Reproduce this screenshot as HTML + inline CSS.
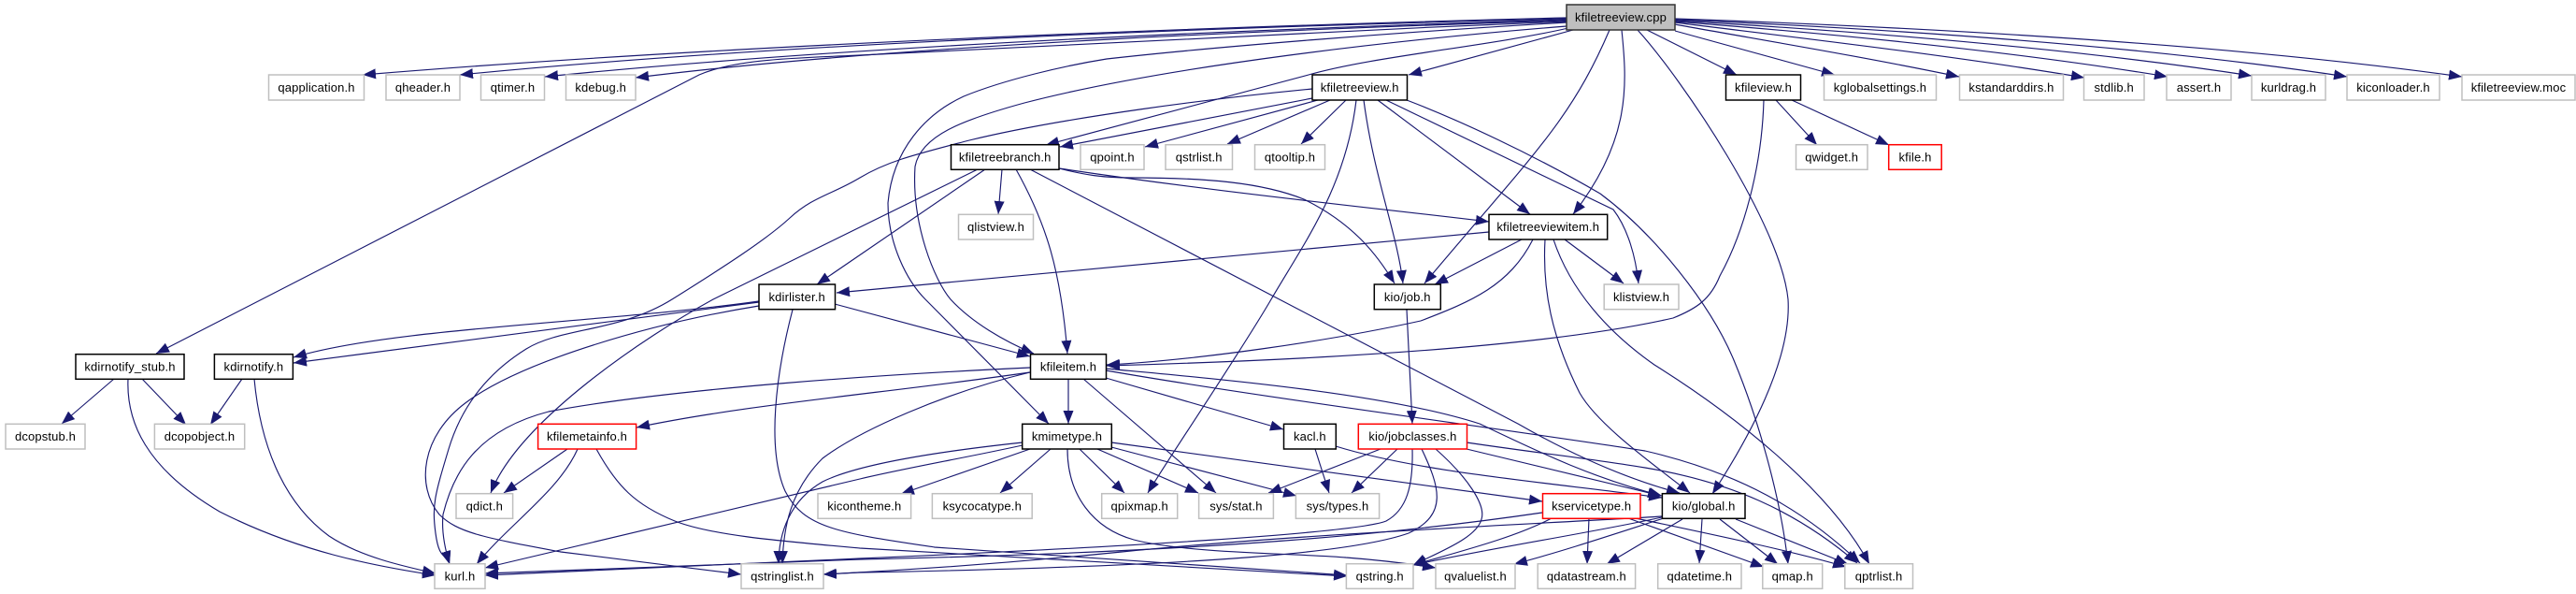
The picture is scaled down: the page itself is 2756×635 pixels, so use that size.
<!DOCTYPE html>
<html><head><meta charset="utf-8"><title>kfiletreeview.cpp</title>
<style>
html,body{margin:0;padding:0;background:#fff;width:2756px;height:635px;overflow:hidden}
svg{display:block}
text{font-family:"Liberation Sans",sans-serif;font-size:13px;fill:#000;text-anchor:middle;letter-spacing:.15px}
.e path{fill:none;stroke:#191970;stroke-width:1.15;marker-end:url(#a)}
.g rect{fill:#fff;stroke:#bfbfbf;stroke-width:1.5}
.b rect{fill:#fff;stroke:#000;stroke-width:1.5}
.r rect{fill:#fff;stroke:#ff0000;stroke-width:1.5}
</style></head><body>
<svg width="2756" height="635" viewBox="0 0 2756 635" xmlns="http://www.w3.org/2000/svg">
<defs><marker id="a" markerUnits="userSpaceOnUse" markerWidth="16" markerHeight="12" refX="14" refY="5.5" orient="auto"><path d="M0 0L14 5.5L0 11Z" fill="#191970"/></marker></defs>
<g class="e">
<path d="M1676 19C1350 27 800 46 388 80"/>
<path d="M1676 20C1350 28 860 44 492 80"/>
<path d="M1676 21C1380 30 930 47 583 82"/>
<path d="M1676 22C1420 30 980 46 680 83"/>
<path d="M1676 23C1400 34 1100 50 920 59C860 62 790 62 748 80L167 378"/>
<path d="M1676 24C1500 34 1300 50 1184 63C1140 70 1075 85 1031 103C990 122 955 160 950 217C950 260 970 300 990 320L1122 453"/>
<path d="M1676 28C1500 42 1250 70 1096 110C1030 128 985 145 979 178C975 240 1000 300 1017 320C1040 345 1075 365 1106 378"/>
<path d="M1678 30C1590 50 1470 60 1400 80L1119 155"/>
<path d="M1683 32L1507 80"/>
<path d="M1722 32C1680 130 1640 165 1524 303"/>
<path d="M1735 32C1741 90 1745 150 1683 229"/>
<path d="M1752 32C1800 85 1905 240 1913 320C1917 385 1870 470 1832 528"/>
<path d="M1762 32L1858 80"/>
<path d="M1792 33L1963 80"/>
<path d="M1792 26C1880 42 1990 60 2096 82"/>
<path d="M1792 24C1920 40 2080 58 2230 83"/>
<path d="M1792 23C1960 36 2150 54 2319 82"/>
<path d="M1792 22C2000 34 2220 52 2409 81"/>
<path d="M1792 21C2050 32 2300 50 2511 82"/>
<path d="M1792 20C2080 30 2390 48 2634 82"/>
<path d="M1404 95C1300 105 1140 125 1037 150C980 165 950 172 920 190S870 210 845 233S775 285 719 320S600 350 563 373S495 430 480 480S462 540 466 570S477 590 481 603"/>
<path d="M1404 105L1134 157"/>
<path d="M1410 107L1225 157"/>
<path d="M1423 107L1313 154"/>
<path d="M1440 107L1392 154"/>
<path d="M1451 107C1440 200 1395 260 1360 320S1250 490 1228 527"/>
<path d="M1459 107C1470 190 1495 250 1501 303"/>
<path d="M1474 107L1637 229"/>
<path d="M1483 107L1726 224C1742 245 1750 275 1753 303"/>
<path d="M1505 107C1560 128 1640 165 1712 207C1770 250 1830 325 1855 385C1880 445 1905 530 1913 603"/>
<path d="M1046 181L763 320C690 360 555 450 525 527"/>
<path d="M1054 181L874 304"/>
<path d="M1072 181L1068 229"/>
<path d="M1087 181C1120 240 1135 290 1142 378"/>
<path d="M1102 181L1624 453C1680 485 1740 512 1797 527"/>
<path d="M1133 180C1300 205 1450 220 1593 237"/>
<path d="M1133 180C1160 187 1180 190 1210 190C1290 190 1350 195 1395 213C1450 240 1475 275 1492 303"/>
<path d="M1593 248L895 313"/>
<path d="M1628 256L1535 304"/>
<path d="M1640 256C1615 305 1575 322 1520 343C1420 365 1280 385 1184 390"/>
<path d="M1653 256C1650 310 1660 360 1690 420C1710 455 1770 497 1808 527"/>
<path d="M1662 256C1680 310 1720 355 1770 390C1850 440 1955 520 2000 603"/>
<path d="M1674 256L1737 303"/>
<path d="M812 322C650 345 420 350 314 382"/>
<path d="M812 323L314 388"/>
<path d="M812 327C700 345 560 385 499 430C450 466 445 520 470 550C490 570 520 575 600 590L793 614"/>
<path d="M848 331C830 400 820 480 840 525C860 565 900 570 1000 585L1441 615"/>
<path d="M893 325L1102 381"/>
<path d="M122 405L66 453"/>
<path d="M137 405C135 450 155 500 235 547C320 590 400 605 466 615"/>
<path d="M152 405L199 454"/>
<path d="M259 405L225 454"/>
<path d="M272 405C278 470 300 535 352 573C385 595 430 605 466 613"/>
<path d="M1102 393C950 400 720 415 587 440C510 460 485 505 474 550C472 570 477 590 481 603"/>
<path d="M1102 398C950 420 800 432 681 457"/>
<path d="M1102 398C1010 420 920 460 880 490C845 525 838 565 837 603"/>
<path d="M1143 405L1143 453"/>
<path d="M1159 405L1301 527"/>
<path d="M1183 404L1373 459"/>
<path d="M1183 394C1300 405 1480 420 1583 453C1640 480 1700 510 1778 530"/>
<path d="M1183 396C1350 425 1620 460 1760 482C1860 505 1930 545 1990 602"/>
<path d="M1094 473C1010 482 920 495 880 515C845 535 833 570 833 603"/>
<path d="M1094 476C1030 490 970 500 920 512L519 607"/>
<path d="M1102 480L964 528"/>
<path d="M1124 480L1070 527"/>
<path d="M1142 480C1142 530 1170 565 1213 577C1270 592 1400 592 1440 596C1480 599 1510 603 1536 607"/>
<path d="M1155 480L1203 527"/>
<path d="M1174 480L1282 527"/>
<path d="M1189 478L1387 530"/>
<path d="M1189 473L1650 536"/>
<path d="M1407 480L1422 527"/>
<path d="M1429 477C1520 505 1650 515 1778 532"/>
<path d="M1505 331L1511 453"/>
<path d="M1477 480L1357 527"/>
<path d="M1495 480L1446 527"/>
<path d="M1511 480C1512 520 1505 545 1483 557C1450 570 1200 585 920 597L519 615"/>
<path d="M1521 480C1540 520 1550 550 1507 570C1450 590 1300 605 920 612L881 614"/>
<path d="M1536 480C1570 510 1590 540 1585 555C1580 575 1540 590 1512 604"/>
<path d="M1569 473C1650 485 1700 490 1760 500C1850 515 1920 545 1987 602"/>
<path d="M1569 480L1777 530"/>
<path d="M1650 548C1500 570 1300 590 920 598L519 613"/>
<path d="M1660 554C1620 575 1560 590 1512 604"/>
<path d="M1700 554L1698 603"/>
<path d="M1742 554L1887 606"/>
<path d="M1745 553C1850 575 1920 590 1975 606"/>
<path d="M1778 552C1650 560 1400 570 1200 590C1100 600 1000 608 881 614"/>
<path d="M1778 553C1700 570 1600 585 1512 604"/>
<path d="M1780 554C1730 570 1670 590 1620 603"/>
<path d="M1800 555L1719 603"/>
<path d="M1821 555L1818 602"/>
<path d="M1840 555L1902 603"/>
<path d="M1857 555L1977 603"/>
<path d="M607 480L539 527"/>
<path d="M618 480C598 525 545 560 510 603"/>
<path d="M638 480C660 520 680 540 722 557C760 572 830 578 920 586L1441 616"/>
<path d="M1887 107C1885 180 1865 250 1840 295C1830 320 1815 330 1790 340C1650 372 1400 385 1184 391"/>
<path d="M1900 107L1944 155"/>
<path d="M1917 107L2021 155"/>
</g>
<g class="b"><rect x="1676" y="5" width="116" height="27" style="fill:#bfbfbf;stroke:#333"/><text x="1734" y="23">kfiletreeview.cpp</text></g>
<g class="g"><rect x="287.5" y="80" width="102" height="27"/><text x="338.5" y="98">qapplication.h</text></g>
<g class="g"><rect x="413" y="80" width="79" height="27"/><text x="452.5" y="98">qheader.h</text></g>
<g class="g"><rect x="514.5" y="80" width="68" height="27"/><text x="548.5" y="98">qtimer.h</text></g>
<g class="g"><rect x="605.5" y="80" width="74.5" height="27"/><text x="642.7" y="98">kdebug.h</text></g>
<g class="b"><rect x="1404" y="80" width="101.5" height="27"/><text x="1454.7" y="98">kfiletreeview.h</text></g>
<g class="b"><rect x="1846.5" y="80" width="80" height="27"/><text x="1886.5" y="98">kfileview.h</text></g>
<g class="g"><rect x="1951.5" y="80" width="120" height="27"/><text x="2011.5" y="98">kglobalsettings.h</text></g>
<g class="g"><rect x="2096.5" y="80" width="111" height="27"/><text x="2152" y="98">kstandarddirs.h</text></g>
<g class="g"><rect x="2229.5" y="80" width="64.5" height="27"/><text x="2261.7" y="98">stdlib.h</text></g>
<g class="g"><rect x="2318" y="80" width="69" height="27"/><text x="2352.5" y="98">assert.h</text></g>
<g class="g"><rect x="2409" y="80" width="79" height="27"/><text x="2448.5" y="98">kurldrag.h</text></g>
<g class="g"><rect x="2511" y="80" width="99" height="27"/><text x="2560.5" y="98">kiconloader.h</text></g>
<g class="g"><rect x="2634" y="80" width="121" height="27"/><text x="2694.5" y="98">kfiletreeview.moc</text></g>
<g class="b"><rect x="1017.5" y="154.7" width="115.5" height="26.6"/><text x="1075.2" y="172.5">kfiletreebranch.h</text></g>
<g class="g"><rect x="1156" y="154.7" width="68" height="26.6"/><text x="1190" y="172.5">qpoint.h</text></g>
<g class="g"><rect x="1247" y="154.7" width="71.5" height="26.6"/><text x="1282.7" y="172.5">qstrlist.h</text></g>
<g class="g"><rect x="1342.5" y="154.7" width="75" height="26.6"/><text x="1380" y="172.5">qtooltip.h</text></g>
<g class="g"><rect x="1921.5" y="154.7" width="76.5" height="26.6"/><text x="1959.7" y="172.5">qwidget.h</text></g>
<g class="r"><rect x="2020.7" y="154.7" width="56.5" height="26.6"/><text x="2049" y="172.5">kfile.h</text></g>
<g class="g"><rect x="1025.5" y="229.3" width="80" height="26.7"/><text x="1065.5" y="247.2">qlistview.h</text></g>
<g class="b"><rect x="1593" y="229.3" width="126.7" height="26.7"/><text x="1656.3" y="247.2">kfiletreeviewitem.h</text></g>
<g class="b"><rect x="812" y="304" width="81.5" height="26.7"/><text x="852.7" y="322">kdirlister.h</text></g>
<g class="b"><rect x="1470.3" y="304" width="71" height="26.7"/><text x="1505.8" y="322">kio/job.h</text></g>
<g class="g"><rect x="1716.2" y="304" width="79.8" height="26.7"/><text x="1756.1" y="322">klistview.h</text></g>
<g class="b"><rect x="81" y="378.7" width="116" height="26.6"/><text x="139" y="396.5">kdirnotify_stub.h</text></g>
<g class="b"><rect x="229.4" y="378.7" width="84" height="26.6"/><text x="271.4" y="396.5">kdirnotify.h</text></g>
<g class="b"><rect x="1102.5" y="378.7" width="81" height="26.6"/><text x="1143" y="396.5">kfileitem.h</text></g>
<g class="g"><rect x="6" y="453.3" width="85" height="26.7"/><text x="48.5" y="471.2">dcopstub.h</text></g>
<g class="g"><rect x="165.4" y="453.3" width="96.3" height="26.7"/><text x="213.5" y="471.2">dcopobject.h</text></g>
<g class="r"><rect x="575.6" y="453.3" width="105" height="26.7"/><text x="628" y="471.2">kfilemetainfo.h</text></g>
<g class="b"><rect x="1093.7" y="453.3" width="95.6" height="26.7"/><text x="1141.5" y="471.2">kmimetype.h</text></g>
<g class="b"><rect x="1373.5" y="453.3" width="55.8" height="26.7"/><text x="1401.4" y="471.2">kacl.h</text></g>
<g class="r"><rect x="1453.3" y="453.3" width="116.2" height="26.7"/><text x="1511.4" y="471.2">kio/jobclasses.h</text></g>
<g class="g"><rect x="488" y="527.7" width="60.6" height="26.6"/><text x="518.3" y="545.5">qdict.h</text></g>
<g class="g"><rect x="875" y="527.7" width="99.6" height="26.6"/><text x="924.8" y="545.5">kicontheme.h</text></g>
<g class="g"><rect x="997.4" y="527.7" width="106.8" height="26.6"/><text x="1050.8" y="545.5">ksycocatype.h</text></g>
<g class="g"><rect x="1178.7" y="527.7" width="81" height="26.6"/><text x="1219.2" y="545.5">qpixmap.h</text></g>
<g class="g"><rect x="1282.6" y="527.7" width="79.8" height="26.6"/><text x="1322.5" y="545.5">sys/stat.h</text></g>
<g class="g"><rect x="1386.4" y="527.7" width="89.2" height="26.6"/><text x="1431" y="545.5">sys/types.h</text></g>
<g class="r"><rect x="1650.5" y="527.7" width="104.5" height="26.6"/><text x="1702.7" y="545.5">kservicetype.h</text></g>
<g class="b"><rect x="1778.4" y="527.7" width="88.6" height="26.6"/><text x="1822.7" y="545.5">kio/global.h</text></g>
<g class="g"><rect x="465" y="602.7" width="54" height="26.6"/><text x="492" y="620.5">kurl.h</text></g>
<g class="g"><rect x="793" y="602.7" width="88" height="26.6"/><text x="837" y="620.5">qstringlist.h</text></g>
<g class="g"><rect x="1440.4" y="602.7" width="71.6" height="26.6"/><text x="1476.2" y="620.5">qstring.h</text></g>
<g class="g"><rect x="1536" y="602.7" width="85" height="26.6"/><text x="1578.5" y="620.5">qvaluelist.h</text></g>
<g class="g"><rect x="1645.2" y="602.7" width="104.4" height="26.6"/><text x="1697.4" y="620.5">qdatastream.h</text></g>
<g class="g"><rect x="1773.7" y="602.7" width="89.3" height="26.6"/><text x="1818.3" y="620.5">qdatetime.h</text></g>
<g class="g"><rect x="1885.8" y="602.7" width="63.9" height="26.6"/><text x="1917.7" y="620.5">qmap.h</text></g>
<g class="g"><rect x="1973.8" y="602.7" width="72.7" height="26.6"/><text x="2010.1" y="620.5">qptrlist.h</text></g>
</svg>
</body></html>
